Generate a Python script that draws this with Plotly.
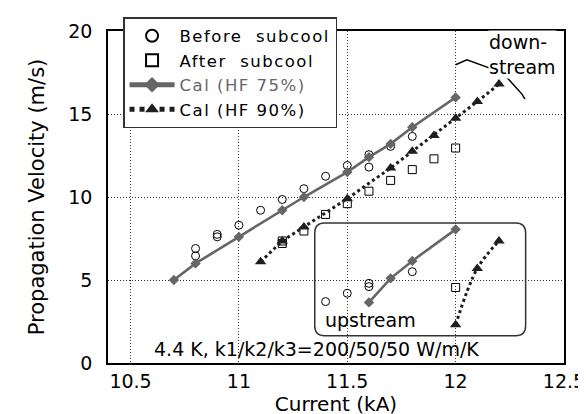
import plotly.graph_objects as go

# ---- data (downstream) ----
before_x = [10.8, 10.8, 10.9, 10.9, 11.0, 11.1, 11.2, 11.3, 11.4, 11.5, 11.6, 11.6, 11.7, 11.8]
before_y = [6.9, 6.45, 7.75, 7.6, 8.3, 9.2, 9.85, 10.5, 11.25, 11.9, 12.55, 11.8, 13.05, 13.65]
after_x = [11.2, 11.2, 11.3, 11.4, 11.5, 11.6, 11.7, 11.8, 11.9, 12.0]
after_y = [7.35, 7.2, 7.95, 8.95, 9.6, 10.35, 11.0, 11.65, 12.3, 12.95]
cal75_x = [10.7, 10.8, 11.0, 11.2, 11.3, 11.5, 11.6, 11.7, 11.8, 12.0]
cal75_y = [5.0, 6.0, 7.6, 9.2, 10.0, 11.5, 12.4, 13.2, 14.2, 16.0]
cal90_x = [11.1, 11.2, 11.3, 11.5, 11.7, 11.8, 11.9, 12.0, 12.1, 12.2]
cal90_y = [6.1, 7.35, 8.2, 9.9, 11.75, 12.75, 13.7, 14.75, 15.75, 16.8]

# ---- data (upstream) ----
up_before_x = [11.4, 11.5, 11.6, 11.6, 11.8]
up_before_y = [3.7, 4.2, 4.8, 4.6, 5.5]
up_after_x = [12.0]
up_after_y = [4.55]
up_cal75_x = [11.6, 11.7, 11.8, 12.0]
up_cal75_y = [3.65, 5.1, 6.15, 8.05]
up_cal90_x = [12.0, 12.1, 12.2]
up_cal90_y = [2.3, 5.7, 7.35]

x_ticks = [10.5, 11, 11.5, 12, 12.5]
y_ticks = [0, 5, 10, 15, 20]

FONT = "DejaVu Sans"
C75 = "#666666"
C90 = "#1e1e1e"
SP = "&nbsp;"
LS = "letter-spacing:1.5px"

fig = go.Figure()

def add_set(bx, by, ax, ay, c75x, c75y, c90x, c90y, show, spline90=False):
    fig.add_trace(go.Scatter(x=bx, y=by, mode="markers",
                             name=f"<span style='{LS}'>Before{SP*2}subcool</span>",
                             showlegend=show,
                             marker=dict(symbol="circle-open", size=8, color="black",
                                         line=dict(width=1, color="black"))))
    fig.add_trace(go.Scatter(x=ax, y=ay, mode="markers",
                             name=f"<span style='{LS}'>After{SP*2}subcool</span>",
                             showlegend=show,
                             marker=dict(symbol="square-open", size=8, color="black",
                                         line=dict(width=1, color="black"))))
    fig.add_trace(go.Scatter(x=c75x, y=c75y, mode="lines+markers",
                             name=f"<span style='color:{C75};{LS}'>Cal (HF 75%)</span>",
                             showlegend=show,
                             line=dict(color=C75, width=2.6),
                             marker=dict(symbol="diamond", size=8, color=C75)))
    fig.add_trace(go.Scatter(x=c90x, y=c90y, mode="lines+markers",
                             name=f"<span style='{LS}'>Cal (HF 90%)</span>",
                             showlegend=show,
                             line=dict(color=C90, width=3, dash="dot",
                                       shape="spline" if spline90 else "linear"),
                             marker=dict(symbol="triangle-up", size=10, color=C90)))

add_set(before_x, before_y, after_x, after_y, cal75_x, cal75_y, cal90_x, cal90_y, True)
add_set(up_before_x, up_before_y, up_after_x, up_after_y,
        up_cal75_x, up_cal75_y, up_cal90_x, up_cal90_y, False, spline90=True)

# rounded "upstream" box (data coords)
bx0, bx1, by0, by1 = 11.35, 12.323, 1.64, 8.43
rx, ry = 0.046, 0.6
box_path = (f"M{bx0+rx},{by0} L{bx1-rx},{by0} Q{bx1},{by0} {bx1},{by0+ry} "
            f"L{bx1},{by1-ry} Q{bx1},{by1} {bx1-rx},{by1} "
            f"L{bx0+rx},{by1} Q{bx0},{by1} {bx0},{by1-ry} "
            f"L{bx0},{by0+ry} Q{bx0},{by0} {bx0+rx},{by0} Z")
fig.add_shape(type="path", path=box_path, xref="x", yref="y",
              line=dict(color="#333333", width=1.5), layer="below")

# brace for "downstream"
brace = [(12.0, 17.97), (12.052, 18.27), (12.199, 17.57), (12.213, 17.89),
         (12.218, 17.47), (12.306, 16.2), (12.32, 15.9)]
brace_path = "M" + " L".join(f"{x},{y}" for x, y in brace)
fig.add_shape(type="path", path=brace_path, xref="x", yref="y",
              line=dict(color="black", width=1.5))

fig.add_annotation(x=12.15, y=1.0, xref="x", yref="paper", yshift=1,
                   text="down-<br>stream",
                   showarrow=False, xanchor="left", yanchor="top", align="left",
                   bgcolor="white", borderpad=0,
                   font=dict(family=FONT, size=19, color="black"))
fig.add_annotation(x=11.388, y=2.6, xref="x", yref="y", text="upstream",
                   showarrow=False, xanchor="left", yanchor="middle",
                   font=dict(family=FONT, size=19, color="black"))
fig.add_annotation(x=10.6, y=0.85, xref="x", yref="y",
                   text="4.4 K, k1/k2/k3=200/50/50 W/m/K",
                   showarrow=False, xanchor="left", yanchor="middle",
                   font=dict(family=FONT, size=19, color="black"))

axis_common = dict(showline=True, linecolor="black", linewidth=1.5, mirror=True,
                   showgrid=True, gridcolor="#333333", gridwidth=1, griddash="1px,2px",
                   zeroline=False, ticks="",
                   tickfont=dict(family=FONT, size=19, color="black"))

fig.update_layout(
    width=586, height=414,
    margin=dict(l=100, r=30, t=23, b=59, autoexpand=False),
    paper_bgcolor="white", plot_bgcolor="white",
    font=dict(family=FONT, size=19, color="black"),
    showlegend=True,
    legend=dict(x=0.033, y=1.042, xanchor="left", yanchor="top",
                bgcolor="white", bordercolor="#333333", borderwidth=1.5,
                font=dict(family=FONT, size=16.5, color="black"),
                itemwidth=45,
                tracegroupgap=0, itemsizing="constant"),
    xaxis=dict(range=[10.396, 12.5], tickvals=x_ticks,
               ticktext=[str(v) for v in x_ticks],
               title=dict(text="Current (kA)", standoff=4,
                          font=dict(family=FONT, size=20)),
               **axis_common),
    yaxis=dict(range=[0, 20], tickvals=y_ticks,
               ticktext=[str(v) for v in y_ticks],
               ticklabelstandoff=10,
               title=dict(text="Propagation Velocity (m/s)", standoff=18,
                          font=dict(family=FONT, size=21)),
               **axis_common),
)

fig.write_html("out.html")
